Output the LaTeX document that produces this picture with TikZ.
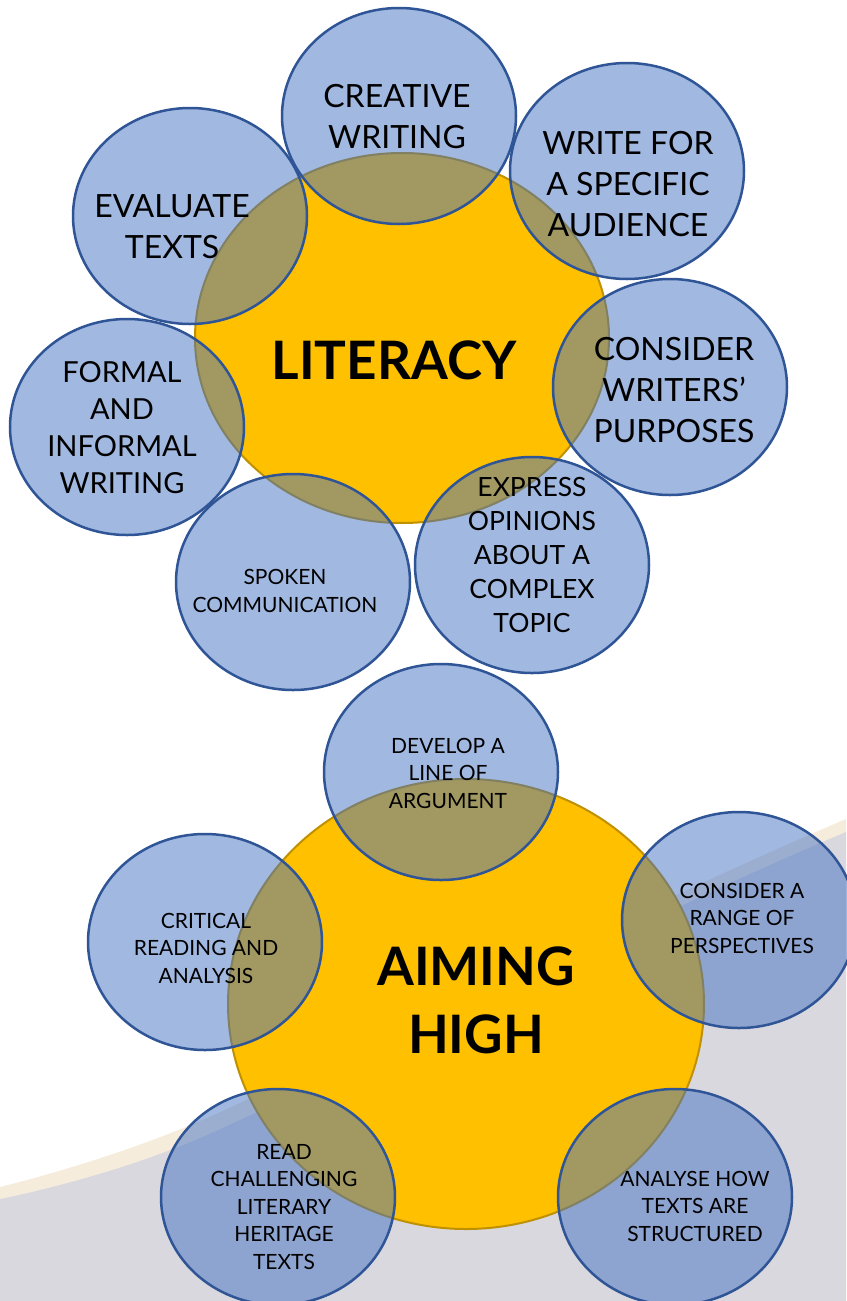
\documentclass[tikz,border=0pt]{standalone}
\usepackage{fontspec}
\setmainfont{Lato}
\usetikzlibrary{shapes.geometric}
\definecolor{blfill}{HTML}{4472C4}
\definecolor{bldraw}{HTML}{2F5597}
\definecolor{yfill}{HTML}{FFC000}
\definecolor{ydraw}{HTML}{BF9000}
\definecolor{bggrey}{HTML}{D9D8DE}
\definecolor{bgcream}{HTML}{F5ECDC}
\begin{document}
\begin{tikzpicture}[x=1pt,y=-1pt,
  yel/.style={ellipse, fill=yfill, draw=ydraw, line width=2pt, inner sep=0pt},
  blob/.style={ellipse, fill=blfill, fill opacity=0.5, draw=bldraw, draw opacity=1,
    line width=2.5pt, minimum width=234pt, minimum height=216pt, inner sep=0pt},
  lblbig/.style={align=center, inner sep=0pt, font=\fontsize{32}{41}\selectfont},
  lblmid/.style={align=center, inner sep=0pt, font=\fontsize{29}{37}\selectfont},
  lblmed/.style={align=center, inner sep=0pt, font=\fontsize{26.5}{34}\selectfont},
  lblsmall/.style={align=center, inner sep=0pt, font=\fontsize{21}{27.5}\selectfont},
  ttl/.style={align=center, inner sep=0pt, font=\fontsize{53}{68}\selectfont\bfseries}
]
\useasboundingbox (0,0) rectangle (846,1301);
\fill[white] (0,0) rectangle (846,1301);
% background swoosh
\fill[bgcream] plot[smooth] coordinates {(0,1187) (200,1121) (683,892) (846,819)} -- (846,1301) -- (0,1301) -- cycle;
\fill[bggrey] plot[smooth] coordinates {(0,1199) (200,1138) (683,905) (846,832)} -- (846,1301) -- (0,1301) -- cycle;

% ---------- LITERACY ----------
\node[yel, minimum width=414pt, minimum height=370pt] (lit) at (402,338) {};
\node[blob] (cw) at (399,116) {};
\node[blob] (ev) at (190,216) {};
\node[blob] (wf) at (627,171) {};
\node[blob] (cp) at (670,387) {};
\node[blob] (fi) at (127,427) {};
\node[blob] (sc) at (293,582) {};
\node[blob] (eo) at (532,565) {};

\node[ttl] (litt) at (394,360) {LITERACY};
\node[lblbig] (cwt) at (397,117) {CREATIVE\\WRITING};
\node[lblbig] (evt) at (172,227) {EVALUATE\\TEXTS};
\node[lblbig] (wft) at (628,184) {WRITE FOR\\A SPECIFIC\\AUDIENCE};
\node[lblbig] (cpt) at (674,390) {CONSIDER\\WRITERS’\\PURPOSES};
\node[lblmid] (fit) at (122,428) {FORMAL\\AND\\INFORMAL\\WRITING};
\node[lblsmall] (sct) at (285,591) {SPOKEN\\COMMUNICATION};
\node[lblmed] (eot) at (532,555) {EXPRESS\\OPINIONS\\ABOUT A\\COMPLEX\\TOPIC};

% ---------- AIMING HIGH ----------
\node[yel, minimum width=476pt, minimum height=450pt] (aim) at (466,1004) {};
\node[blob] (dl) at (441,772) {};
\node[blob] (cr) at (739,920) {};
\node[blob] (ca) at (205,942) {};
\node[blob] (rc) at (278,1197) {};
\node[blob] (ah) at (675,1197) {};

\node[ttl] (aimt) at (476,1000) {AIMING\\HIGH};
\node[lblsmall] (dlt) at (448,773) {DEVELOP A\\LINE OF\\ARGUMENT};
\node[lblsmall] (crt) at (742,918) {CONSIDER A\\RANGE OF\\PERSPECTIVES};
\node[lblsmall] (cat) at (206,948) {CRITICAL\\READING AND\\ANALYSIS};
\node[lblsmall] (rct) at (284,1207) {READ\\CHALLENGING\\LITERARY\\HERITAGE\\TEXTS};
\node[lblsmall] (aht) at (695,1206) {ANALYSE HOW\\TEXTS ARE\\STRUCTURED};
\end{tikzpicture}
\end{document}
